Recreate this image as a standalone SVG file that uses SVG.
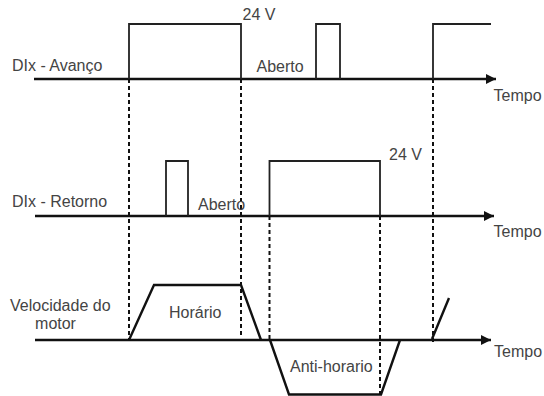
<svg xmlns="http://www.w3.org/2000/svg" width="544" height="396" viewBox="0 0 544 396">
<style>
text{font-family:"Liberation Sans",Arial,sans-serif;font-size:16px;fill:#444}
.axis{stroke:#111;stroke-width:2.4;fill:none}
.sig{stroke:#222;stroke-width:1.8;fill:none;stroke-linejoin:miter}
.dash{stroke:#111;stroke-width:2;stroke-dasharray:4 3;fill:none}
</style>
<defs>
<marker id="arr" markerWidth="10" markerHeight="10" refX="10" refY="5" orient="auto" markerUnits="userSpaceOnUse">
<path d="M0,0 L10,5 L0,10 Z" fill="#111"/>
</marker>
</defs>
<rect width="544" height="396" fill="#fff"/>
<g id="connectors">
<line class="dash" x1="129" y1="79" x2="129" y2="340"/>
<line class="dash" x1="241" y1="79" x2="241" y2="336"/>
<line class="dash" x1="269.5" y1="216" x2="269.5" y2="340"/>
<line class="dash" x1="380" y1="216" x2="380" y2="394"/>
<line class="dash" x1="433" y1="79" x2="433" y2="342"/>
</g>
<g id="row-avanco">
<line class="axis" x1="34" y1="79" x2="496" y2="79" marker-end="url(#arr)"/>
<path class="sig" d="M129,79 V24 H241 V79 M316,79 V24 H340 V79 M433,79 V24 H491"/>
<text x="12" y="71">DIx - Avanço</text>
<text x="242.5" y="20">24 V</text>
<text x="256.5" y="72">Aberto</text>
<text x="493.5" y="100.5">Tempo</text>
</g>
<g id="row-retorno">
<line class="axis" x1="35" y1="216" x2="494" y2="216" marker-end="url(#arr)"/>
<path class="sig" d="M166,216 V161 H188 V216 M269.5,216 V161 H380 V216"/>
<text x="12" y="207">DIx - Retorno</text>
<text x="198" y="210">Aberto</text>
<text x="389" y="160">24 V</text>
<text x="493.5" y="237">Tempo</text>
</g>
<g id="row-velocidade">
<line class="axis" x1="35" y1="340" x2="491" y2="340" marker-end="url(#arr)"/>
<path class="axis" d="M129,340 L154,285 H241 L261,340 M270,340 L289,394.5 H381 L400,340 M432,339 L449,298"/>
<text x="10" y="310.5">Velocidade do</text>
<text x="55.5" y="329" text-anchor="middle">motor</text>
<text x="169" y="318">Horário</text>
<text x="290" y="371.5">Anti-horario</text>
<text x="494" y="357">Tempo</text>
</g>
</svg>
